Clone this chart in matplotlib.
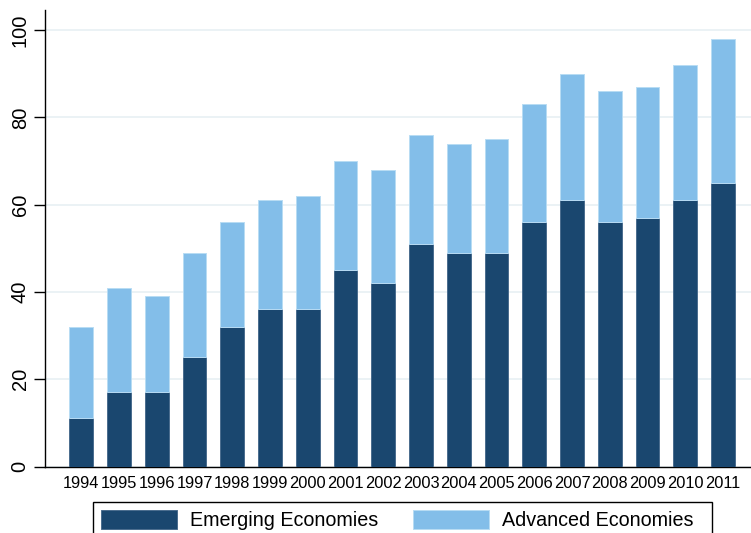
import matplotlib
matplotlib.use('Agg')
import matplotlib.pyplot as plt
from matplotlib.patches import Rectangle
import numpy as np

plt.rcParams['font.family'] = ['Liberation Sans', 'DejaVu Sans']

# data
years = ['1994', '1995', '1996', '1997', '1998', '1999', '2000', '2001', '2002',
         '2003', '2004', '2005', '2006', '2007', '2008', '2009', '2010', '2011']
emerging = [11, 17, 17, 25, 32, 36, 36, 45, 42, 51, 49, 49, 56, 61, 56, 57, 61, 65]
total = [32, 41, 39, 49, 56, 61, 62, 70, 68, 76, 74, 75, 83, 90, 86, 87, 92, 98]
advanced = [t - e for t, e in zip(total, emerging)]

navy = '#1a476f'
light = '#83bee9'

W, H = 751, 533
fig = plt.figure(figsize=(W / 100, H / 100), dpi=100)
ax = fig.add_axes([45 / W, 66.5 / H, 706 / W, 456.5 / H])

x = np.arange(len(years))
w = 0.63
b1 = ax.bar(x, emerging, w, color=navy, edgecolor='#4a6d8e', linewidth=0.7,
            label='Emerging Economies', zorder=3)
b2 = ax.bar(x, advanced, w, bottom=emerging, color=light, edgecolor='#b8dcf4',
            linewidth=0.7, label='Advanced Economies', zorder=3)

ax.set_xlim(-0.96, 17.74)
ax.set_ylim(0, 104.6)
ax.set_yticks([0, 20, 40, 60, 80, 100])
ax.set_xticks(x)
ax.set_xticklabels(years, fontsize=11.8)
ax.tick_params(axis='x', length=0, pad=7)
ax.tick_params(axis='y', length=8, width=1, labelsize=14.5, pad=3)
for lab in ax.get_yticklabels():
    lab.set_rotation(90)
    lab.set_va('center')

ax.grid(axis='y', color='#e8f0f3', linewidth=1.2, zorder=0)
ax.set_axisbelow(True)
for s in ['top', 'right']:
    ax.spines[s].set_visible(False)
for s in ['left', 'bottom']:
    ax.spines[s].set_color('black')
    ax.spines[s].set_linewidth(1.0)

# legend box drawn as a figure rectangle, running off the bottom edge
fig.patches.append(Rectangle((93 / W, -0.05), 619 / W, (H - 502) / H + 0.05,
                             transform=fig.transFigure, fill=False,
                             edgecolor='black', linewidth=1.0))
fs = 14.2
leg = fig.legend(handles=[b1, b2], loc='upper left',
                 bbox_to_anchor=(98 / W, 1 - 507 / H),
                 ncol=2, fontsize=fs, frameon=False,
                 borderpad=0.15, columnspacing=1.8,
                 handlelength=3.85, handleheight=1.1, handletextpad=0.65,
                 borderaxespad=0)

fig.savefig('out.png', dpi=100)
